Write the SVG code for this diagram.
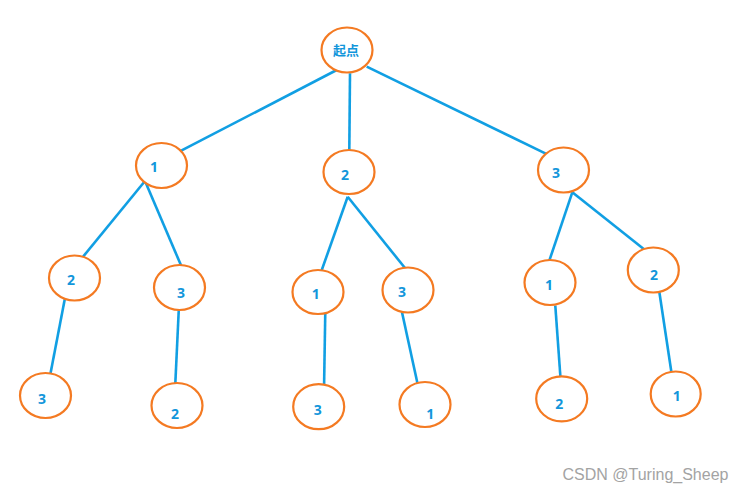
<svg xmlns="http://www.w3.org/2000/svg" width="749" height="493" viewBox="0 0 749 493">
<style>
.n ellipse{fill:#fff;stroke:#f47a22;stroke-width:2.2}
.n text{font-family:"Noto Sans","Liberation Sans",sans-serif;font-weight:bold;font-size:14px;fill:#1296db;text-anchor:middle}
.n text.cjk{font-size:13px;font-family:"Noto Sans CJK SC","Noto Sans",sans-serif}
#edges line{stroke:#119fe3;stroke-width:2.6;stroke-linecap:butt}
.wm{font-family:"Liberation Sans",Arial,sans-serif;font-size:16px;fill:#a3a3a3}
</style>
<rect width="749" height="493" fill="#fff"/>
<g id="edges">
<line x1="336.7" y1="70" x2="179.3" y2="151.7"/>
<line x1="350" y1="73.3" x2="349.3" y2="151.7"/>
<line x1="366.7" y1="66.7" x2="547.3" y2="154.3"/>
<line x1="145" y1="181" x2="82" y2="258"/>
<line x1="145" y1="181" x2="183" y2="270"/>
<line x1="65" y1="298" x2="50" y2="376"/>
<line x1="179" y1="305" x2="175" y2="390"/>
<line x1="347.7" y1="196.7" x2="320" y2="275"/>
<line x1="347.7" y1="196.7" x2="406" y2="269.3"/>
<line x1="325.3" y1="311" x2="324" y2="390.7"/>
<line x1="402" y1="312.3" x2="420" y2="395"/>
<line x1="572.3" y1="192.3" x2="549.3" y2="260.7"/>
<line x1="572.3" y1="192.3" x2="645" y2="250"/>
<line x1="555.3" y1="305.7" x2="561" y2="385"/>
<line x1="659.3" y1="291.7" x2="672.7" y2="380.7"/>
</g>
<g id="root" class="n"><ellipse cx="347" cy="50" rx="25.5" ry="22.5"/><text class="cjk" x="346" y="54.5">起点</text></g>
<g id="n1" class="n"><ellipse cx="161.5" cy="165.5" rx="25.5" ry="22.5"/><text x="154" y="172">1</text></g>
<g id="n2" class="n"><ellipse cx="349" cy="172" rx="25.5" ry="22"/><text x="345" y="180">2</text></g>
<g id="n3" class="n"><ellipse cx="563.5" cy="170" rx="25.5" ry="22.5"/><text x="556" y="177.5">3</text></g>
<g id="n12" class="n"><ellipse cx="74.5" cy="278" rx="25.5" ry="22.5"/><text x="71" y="285">2</text></g>
<g id="n13" class="n"><ellipse cx="179.5" cy="287.5" rx="25.5" ry="22.5"/><text x="181" y="297.5">3</text></g>
<g id="n21" class="n"><ellipse cx="318" cy="292" rx="25.5" ry="22"/><text x="315.7" y="298.5">1</text></g>
<g id="n23" class="n"><ellipse cx="408" cy="290" rx="25.5" ry="22.5"/><text x="402" y="297">3</text></g>
<g id="n31" class="n"><ellipse cx="550" cy="282.5" rx="25.5" ry="22.5"/><text x="549" y="290">1</text></g>
<g id="n32" class="n"><ellipse cx="653.3" cy="270" rx="25.5" ry="22.5"/><text x="654" y="279.5">2</text></g>
<g id="n123" class="n"><ellipse cx="45.5" cy="395.5" rx="25.5" ry="22.5"/><text x="42" y="404">3</text></g>
<g id="n132" class="n"><ellipse cx="177" cy="405.5" rx="25.5" ry="22.5"/><text x="175" y="419">2</text></g>
<g id="n213" class="n"><ellipse cx="318.7" cy="406.7" rx="25.5" ry="22.5"/><text x="317.7" y="414.5">3</text></g>
<g id="n231" class="n"><ellipse cx="425" cy="404.5" rx="25.5" ry="22.5"/><text x="430.3" y="418.5">1</text></g>
<g id="n312" class="n"><ellipse cx="561.7" cy="398.8" rx="25.5" ry="22.5"/><text x="559.3" y="408.5">2</text></g>
<g id="n321" class="n"><ellipse cx="675.7" cy="394" rx="25" ry="22.5"/><text x="676.7" y="401">1</text></g>
<text class="wm" x="562.5" y="479.5">CSDN @Turing_Sheep</text>
</svg>
